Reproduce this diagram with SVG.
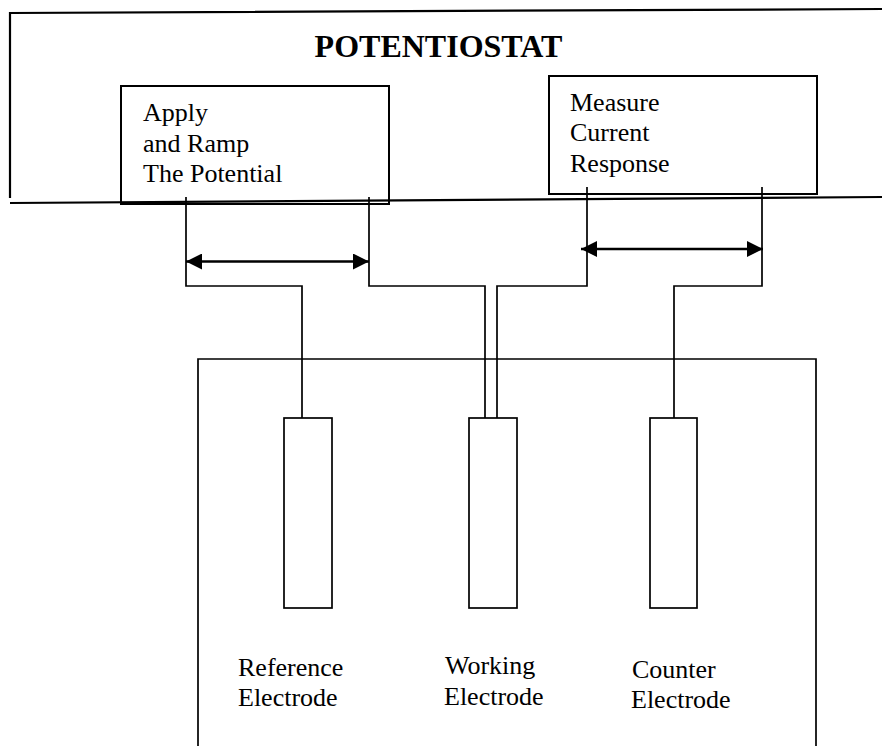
<svg xmlns="http://www.w3.org/2000/svg" width="882" height="746" viewBox="0 0 882 746">
<defs>
<style>
.ln{fill:none;stroke:#000;stroke-width:1.7}
.bx{fill:none;stroke:#000;stroke-width:2}
.fr{fill:none;stroke:#000;stroke-width:2.2}
.t{font-family:"Liberation Serif","Times New Roman",serif;font-size:26px;fill:#000}
.title{font-family:"Liberation Serif","Times New Roman",serif;font-size:32px;font-weight:bold;fill:#000}
.arr{fill:none;stroke:#000;stroke-width:2.6}
</style>
<marker id="ah" viewBox="0 0 16 16" refX="16" refY="8" markerWidth="16" markerHeight="16" markerUnits="userSpaceOnUse" orient="auto-start-reverse">
<path d="M0 0 L16 8 L0 16 Z" fill="#000"/>
</marker>
</defs>
<rect width="882" height="746" fill="#fff"/>
<g id="potentiostat">
<path class="fr" d="M882 9 L10 13 V198"/>
<path class="fr" d="M10 203 L882 197"/>
<text class="title" x="438.5" y="57" text-anchor="middle">POTENTIOSTAT</text>
</g>
<g id="apply">
<rect class="bx" x="121" y="86" width="268" height="118"/>
<text class="t" x="143" y="121">Apply</text>
<text class="t" x="143" y="152">and Ramp</text>
<text class="t" x="143" y="182">The Potential</text>
</g>
<g id="measure">
<rect class="bx" x="549" y="76" width="268" height="118"/>
<text class="t" x="570" y="111">Measure</text>
<text class="t" x="570" y="141">Current</text>
<text class="t" x="570" y="172">Response</text>
</g>
<g id="cell">
<path class="ln" d="M198 746 V359 H816 V746"/>
</g>
<g id="reference">
<rect class="ln" x="284" y="418" width="48" height="190"/>
<text class="t" x="238" y="676">Reference</text>
<text class="t" x="238" y="706">Electrode</text>
</g>
<g id="working">
<rect class="ln" x="469" y="418" width="48" height="190"/>
<text class="t" x="445" y="674">Working</text>
<text class="t" x="444" y="705">Electrode</text>
</g>
<g id="counter">
<rect class="ln" x="650" y="418" width="47" height="190"/>
<text class="t" x="632" y="678">Counter</text>
<text class="t" x="631" y="708">Electrode</text>
</g>
<g id="connectors">
<path class="ln" d="M186 197 V286 H302 V418"/>
<path class="ln" d="M369 197 V286 H485 V418"/>
<path class="ln" d="M587 187 V286 H497 V418"/>
<path class="ln" d="M762 187 V286 H674 V418"/>
<line class="arr" x1="186" y1="261.5" x2="369" y2="261.5" marker-start="url(#ah)" marker-end="url(#ah)"/>
<line class="arr" x1="581" y1="249" x2="763" y2="249" marker-start="url(#ah)" marker-end="url(#ah)"/>
</g>
</svg>
